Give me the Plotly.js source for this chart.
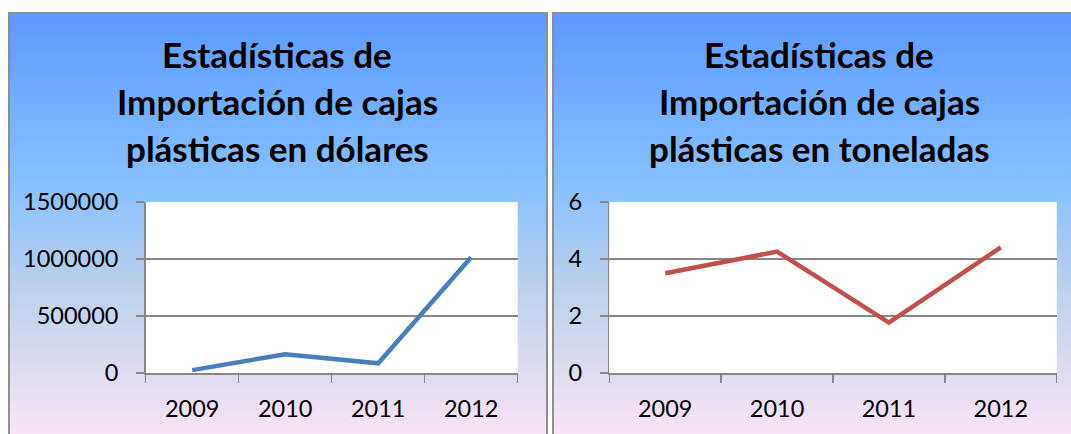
<!DOCTYPE html>
<html>
<head>
<meta charset="utf-8">
<script src="https://cdn.plot.ly/plotly-3.0.1.min.js"></script>
<style>
  html, body { margin: 0; padding: 0; background: #ffffff; }
  #wrap { position: relative; width: 1071px; height: 434px; overflow: hidden; background: #ffffff; }
  .panel {
    position: absolute; top: 12px; height: 440px; box-sizing: border-box;
    border: 2px solid #8e8e8e;
    background: linear-gradient(to bottom, #5b9bff 0%, #88c2ff 40%, #bcd0ec 63%, #e1ddf1 83%, #f9e4f5 97%);
  }
  #p1 { left: 8px; width: 540px; }
  #p2 { left: 552px; width: 540px; }
  #chart { position: absolute; left: 0; top: 0; width: 1071px; height: 434px; }
</style>
</head>
<body>
<div id="wrap">
  <div class="panel" id="p1"></div>
  <div class="panel" id="p2"></div>
  <div id="chart"></div>
</div>
<script>
// ---- data ----
const years = ["2009", "2010", "2011", "2012"];
const importDollars = [25000, 165000, 85000, 1015000];
const importTonnes = [3.5, 4.26, 1.77, 4.41];
const titleDollarsLines = ["Estadísticas de", "Importación de cajas", "plásticas en dólares"];
const titleTonnesLines = ["Estadísticas de", "Importación de cajas", "plásticas en toneladas"];

const W = 1071, H = 434;
const px = v => v / W;
const py = v => 1 - v / H;

const grey = "#878787";
const tickFont = { family: "Lato, 'Open Sans', sans-serif", size: 23.5, color: "#000000" };

function xAxis(domain) {
  return {
    domain: domain, type: "category", range: [-0.5, 3.5],
    tickson: "boundaries", ticks: "outside", ticklen: 8, tickwidth: 1.5, tickcolor: grey,
    showline: true, linecolor: grey, linewidth: 1.5,
    showgrid: false, zeroline: false, tickfont: tickFont, fixedrange: true,
    ticklabelstandoff: 14
  };
}
function yAxis(range, dtick, anchor) {
  return {
    domain: [py(373), py(202)], range: range, dtick: dtick, tick0: 0, tickformat: "d",
    ticks: "outside", ticklen: 8, tickwidth: 1.5, tickcolor: grey,
    showline: true, linecolor: grey, linewidth: 1.5,
    showgrid: true, gridcolor: grey, gridwidth: 1.5, zeroline: false,
    tickfont: tickFont, anchor: anchor, fixedrange: true, ticklabelstandoff: 13
  };
}

const traces = [
  { x: years, y: importDollars, type: "scatter", mode: "lines", xaxis: "x", yaxis: "y",
    line: { color: "#4a7ebb", width: 4.5 }, hoverinfo: "x+y" },
  { x: years, y: importTonnes, type: "scatter", mode: "lines", xaxis: "x2", yaxis: "y2",
    line: { color: "#c0504d", width: 4.5 }, hoverinfo: "x+y" }
];

const titleFont = { family: "Lato, 'Open Sans', sans-serif", size: 35, color: "#000000", weight: 700 };
const lineYs = [54, 101, 148];
const annotations = [];
titleDollarsLines.forEach((t, i) => annotations.push({
  text: "<b>" + t + "</b>", xref: "paper", yref: "paper", x: px(277), y: py(lineYs[i]),
  xanchor: "center", yanchor: "middle", showarrow: false, font: titleFont
}));
titleTonnesLines.forEach((t, i) => annotations.push({
  text: "<b>" + t + "</b>", xref: "paper", yref: "paper", x: px(819), y: py(lineYs[i]),
  xanchor: "center", yanchor: "middle", showarrow: false, font: titleFont
}));

const layout = {
  width: W, height: H,
  margin: { l: 0, r: 0, t: 0, b: 0 },
  paper_bgcolor: "rgba(0,0,0,0)", plot_bgcolor: "#ffffff",
  showlegend: false,
  xaxis: xAxis([px(145.7), px(517.7)]),
  yaxis: yAxis([0, 1500000], 500000, "x"),
  xaxis2: Object.assign(xAxis([px(609.3), px(1056.7)]), { anchor: "y2" }),
  yaxis2: yAxis([0, 6], 2, "x2"),
  annotations: annotations
};
layout.xaxis.anchor = "y";

Plotly.newPlot("chart", traces, layout, { displayModeBar: false, staticPlot: true });
</script>
</body>
</html>
